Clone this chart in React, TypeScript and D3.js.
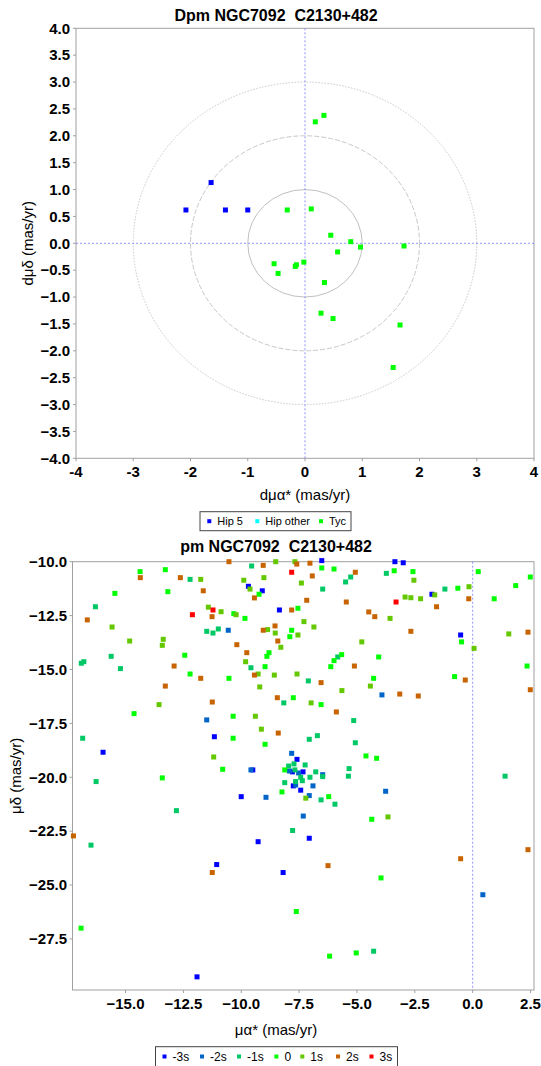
import React from "react";
import * as d3 from "d3";

// ---------- Top chart data (Dpm) ----------
const hip5: [number, number][] = [[-2.08, 0.62], [-1.64, 1.13], [-1.39, 0.62], [-1.0, 0.62]];
const hipOther: [number, number][] = [];
const tyc: [number, number][] = [
  [0.18, 2.26], [0.33, 2.38], [-0.31, 0.62], [0.11, 0.64], [0.45, 0.15], [0.80, 0.03],
  [0.97, -0.07], [1.73, -0.05], [0.57, -0.16], [-0.54, -0.38], [-0.47, -0.56], [-0.15, -0.40],
  [-0.17, -0.43], [-0.02, -0.35], [0.34, -0.73], [0.28, -1.30], [0.49, -1.40], [1.66, -1.52], [1.54, -2.31],
];
const topXTicks = [-4, -3, -2, -1, 0, 1, 2, 3, 4];
const topYTicks = [-4, -3.5, -3, -2.5, -2, -1.5, -1, -0.5, 0, 0.5, 1, 1.5, 2, 2.5, 3, 3.5, 4];
const rings = [1, 2, 3];

// ---------- Bottom chart data (pm) ----------
const sM3: [number, number][] = [
  [-6.52, -9.95], [-3.36, -10.0], [-3.0, -10.05], [-9.69, -11.14], [-9.09, -11.35], [-1.76, -11.51],
  [-8.35, -12.24], [-0.52, -13.40], [-11.16, -18.12], [-15.97, -18.84], [-7.59, -19.17], [-9.50, -19.66],
  [-7.79, -19.75], [-7.33, -19.75], [-7.75, -20.40], [-7.43, -20.60], [-10.0, -20.90], [-9.27, -22.99],
  [-7.06, -22.83], [-11.06, -24.05], [-8.19, -24.42], [-11.91, -29.26],
];
const sM2: [number, number][] = [
  [-10.56, -13.18], [-3.92, -16.18], [-11.49, -17.34], [-7.82, -18.89], [-9.58, -19.66], [-7.92, -19.71],
  [-7.52, -19.80], [-6.48, -19.88], [-7.65, -20.36], [-6.90, -20.40], [-3.76, -20.65], [-8.93, -20.93],
  [-7.06, -20.85], [-7.32, -21.80], [0.44, -25.45],
];
const sM1: [number, number][] = [
  [-9.55, -10.20], [-3.73, -10.54], [-12.21, -10.82], [-5.27, -10.71], [-5.49, -10.94], [-6.48, -11.27],
  [-1.20, -11.27], [-16.30, -12.09], [-11.49, -13.23], [-11.22, -13.31], [-10.99, -13.12], [-15.62, -14.39],
  [-9.58, -14.92], [-5.83, -14.42], [-16.91, -14.71], [-16.80, -14.64], [-15.22, -14.96], [-7.10, -15.53],
  [-8.16, -16.55], [-5.14, -17.37], [-16.85, -18.19], [-7.06, -18.24], [-6.71, -18.07], [-5.07, -18.40],
  [-7.95, -19.48], [-7.72, -19.38], [-7.24, -19.43], [-7.68, -19.66], [-6.78, -19.75], [-6.48, -19.97],
  [-5.34, -19.60], [-5.37, -19.95], [-7.43, -20.00], [-7.03, -20.00], [-7.36, -20.16], [-7.65, -20.20],
  [-8.12, -20.25], [1.40, -19.95], [-16.27, -20.20], [-6.55, -21.05], [-5.95, -21.25], [-12.80, -21.55],
  [-7.78, -22.47], [-16.49, -23.15], [-4.28, -28.07],
];
const s0: [number, number][] = [
  [-14.37, -10.46], [-13.28, -10.37], [-6.52, -10.29], [-5.99, -10.34], [-3.39, -10.42], [-2.58, -10.46],
  [0.24, -10.46], [2.49, -10.71], [-9.23, -11.51], [-15.46, -11.47], [-13.17, -11.39], [-0.64, -11.23],
  [1.86, -11.11], [0.93, -11.72], [-7.55, -12.16], [-10.32, -12.41], [-9.84, -12.63], [-7.82, -13.18],
  [-7.90, -13.48], [-0.48, -13.72], [-8.80, -14.22], [-8.89, -14.39], [-12.44, -14.34], [-5.66, -14.31],
  [-5.99, -14.59], [-4.06, -14.42], [-8.97, -14.87], [-6.13, -14.87], [2.35, -14.84], [-12.21, -15.21],
  [-10.53, -15.41], [-4.28, -15.41], [-0.78, -15.33], [-7.75, -16.31], [-6.55, -16.63], [-14.63, -17.05],
  [-10.35, -17.17], [-10.35, -18.19], [-8.97, -18.47], [-4.61, -19.01], [-4.15, -19.12], [-10.80, -19.63],
  [-8.12, -19.66], [-13.41, -20.03], [-8.24, -20.68], [-6.22, -20.90], [-4.36, -21.95], [-3.96, -24.67],
  [-7.62, -26.23], [-16.92, -27.00], [-6.18, -28.30], [-5.03, -28.15],
];
const s1: [number, number][] = [
  [-8.51, -10.0], [-7.68, -10.0], [-11.75, -10.82], [-9.89, -10.86], [-9.02, -10.74], [-2.54, -10.86],
  [-7.40, -10.99], [-9.62, -11.27], [-0.16, -11.16], [-1.64, -11.54], [-2.92, -11.64], [-2.67, -11.67],
  [-2.25, -11.72], [-11.42, -12.11], [-10.87, -12.32], [-10.22, -12.46], [-3.57, -12.63], [-7.29, -12.78],
  [-15.58, -13.03], [-6.86, -13.03], [-8.86, -13.15], [-8.53, -13.31], [-7.55, -13.40], [1.56, -13.35],
  [-14.82, -13.68], [-13.37, -13.60], [-13.41, -13.88], [-8.29, -13.97], [-4.79, -13.72], [0.06, -14.02],
  [-9.81, -14.64], [-9.27, -15.21], [-8.57, -15.26], [-7.59, -15.21], [-9.20, -15.81], [-5.65, -15.98],
  [-4.42, -15.77], [-13.55, -16.63], [-6.98, -16.55], [-9.39, -17.17], [-9.13, -17.77], [-11.19, -19.06],
  [-7.21, -20.97], [-3.66, -21.84],
];
const s2: [number, number][] = [
  [-10.53, -10.0], [-9.05, -10.17], [-7.60, -10.11], [-7.03, -10.07], [-5.07, -10.49], [-14.36, -10.74],
  [-12.63, -10.74], [-6.93, -10.66], [-11.64, -11.35], [-0.17, -11.72], [-9.43, -11.68], [-7.17, -11.79],
  [-5.46, -11.87], [-7.82, -12.24], [-1.56, -12.09], [-4.49, -12.33], [-4.23, -12.55], [-11.26, -12.55],
  [-16.65, -12.70], [-9.05, -13.18], [-8.54, -12.98], [-8.42, -13.68], [-2.67, -13.23], [2.39, -13.27],
  [-10.19, -13.85], [-9.76, -14.22], [-12.90, -14.84], [-5.11, -14.84], [-11.75, -15.41], [-9.43, -15.26],
  [-6.55, -15.61], [-0.32, -15.49], [-13.28, -15.77], [-3.15, -16.14], [-2.35, -16.23], [2.49, -15.94],
  [-8.44, -16.31], [-11.25, -16.51], [-5.89, -16.97], [-8.40, -17.95], [-17.25, -22.72], [-11.25, -24.42],
  [-6.25, -24.10], [-0.52, -23.78], [2.39, -23.36],
];
const s3: [number, number][] = [[-7.82, -10.49], [-3.31, -11.87], [-11.22, -12.24], [-12.11, -12.46]];
const botXTicks = [-15, -12.5, -10, -7.5, -5, -2.5, 0, 2.5];
const botYTicks = [-10, -12.5, -15, -17.5, -20, -22.5, -25, -27.5];

const sigmaNames = ["-3s", "-2s", "-1s", "0", "1s", "2s", "3s"];
const sigmaColors = ["#0000ff", "#0064c8", "#00c864", "#00ff00", "#64c800", "#c86400", "#ff0000"];
const sigmaData = [sM3, sM2, sM1, s0, s1, s2, s3];

const topNames = ["Hip 5", "Hip other", "Tyc"];
const topColors = ["#0000ff", "#00ffff", "#00ff00"];
const topData = [hip5, hipOther, tyc];

const FONT = "'Liberation Sans', Arial, sans-serif";
const AXIS = "#a0a0a0";
const MS = 5;

export default function App() {
  const tx = d3.scaleLinear().domain([-4, 4]).range([76, 534]);
  const ty = d3.scaleLinear().domain([-4, 4]).range([458.3, 28.3]);
  const bx = d3.scaleLinear().domain([-17.29, 2.65]).range([72.5, 534]);
  const by = d3.scaleLinear().domain([-29.87, -10]).range([990, 561.7]);
  const f1 = d3.format(".1f");

  const ringStyles = [
    { dash: "none", color: "#c0c0c0" },
    { dash: "5,2", color: "#c8c8c8" },
    { dash: "1.5,1.5", color: "#c8c8c8" },
  ];

  return (
    <svg width={541} height={1066} style={{ position: "absolute", left: 0, top: 0, background: "#fff" }} fontFamily={FONT}>
      <rect x={0} y={0} width={541} height={1066} fill="#fff" />
      {/* ---------------- TOP CHART ---------------- */}
      <text x={276} y={21.4} textAnchor="middle" fontSize={16} fontWeight="bold" style={{ whiteSpace: "pre" }}>{"Dpm NGC7092  C2130+482"}</text>
      <rect x={tx(-4)} y={ty(4)} width={tx(4) - tx(-4)} height={ty(-4) - ty(4)} fill="#fff" stroke={AXIS} />
      {rings.map((r, i) => (
        <ellipse key={r} cx={tx(0)} cy={ty(0)} rx={tx(r) - tx(0)} ry={ty(0) - ty(r)} fill="none"
          stroke={ringStyles[i].color} strokeWidth={1} strokeDasharray={ringStyles[i].dash} />
      ))}
      <line x1={tx(0)} x2={tx(0)} y1={ty(4)} y2={ty(-4)} stroke="#7777ff" strokeDasharray="2,2" strokeWidth={0.8} />
      <line x1={tx(-4)} x2={tx(4)} y1={ty(0)} y2={ty(0)} stroke="#7777ff" strokeDasharray="2,2" strokeWidth={0.8} />
      {topXTicks.map((t) => (
        <g key={"tx" + t}>
          <line x1={tx(t)} x2={tx(t)} y1={ty(-4)} y2={ty(-4) + 3} stroke={AXIS} />
          <text x={tx(t)} y={476.7} textAnchor="middle" fontSize={15} fontWeight="bold">{String(t)}</text>
        </g>
      ))}
      {topYTicks.map((t) => (
        <g key={"ty" + t}>
          <line x1={tx(-4) - 3} x2={tx(-4)} y1={ty(t)} y2={ty(t)} stroke={AXIS} />
          <text x={70} y={ty(t) + 5.3} textAnchor="end" fontSize={15} fontWeight="bold">{f1(t)}</text>
        </g>
      ))}
      <text x={305} y={500} textAnchor="middle" fontSize={15}>dμα* (mas/yr)</text>
      <text transform={`translate(33,${ty(0)}) rotate(-90)`} textAnchor="middle" fontSize={15}>dμδ (mas/yr)</text>
      {topData.map((ser, i) =>
        ser.map((d, j) => (
          <rect key={"tp" + i + "_" + j} x={tx(d[0]) - MS / 2} y={ty(d[1]) - MS / 2} width={MS} height={MS} fill={topColors[i]} />
        ))
      )}
      {/* top legend */}
      <rect x={200} y={511.7} width={151} height={19} fill="#fff" stroke="#444" />
      {topNames.map((n, i) => {
        const mx = [209.3, 257.3, 321][i];
        return (
          <g key={"tl" + n}>
            <rect x={mx - 2} y={521.2 - 2} width={4} height={4} fill={topColors[i]} />
            <text x={mx + 8} y={525} fontSize={11}>{n}</text>
          </g>
        );
      })}

      {/* ---------------- BOTTOM CHART ---------------- */}
      <text x={276} y={551.7} textAnchor="middle" fontSize={16} fontWeight="bold" style={{ whiteSpace: "pre" }}>{"pm NGC7092  C2130+482"}</text>
      <rect x={bx.range()[0]} y={by(-10)} width={bx.range()[1] - bx.range()[0]} height={by.range()[0] - by(-10)} fill="#fff" stroke={AXIS} />
      <line x1={bx(0)} x2={bx(0)} y1={by(-10)} y2={by.range()[0]} stroke="#7777ff" strokeDasharray="2,2" strokeWidth={0.8} />
      {botXTicks.map((t) => (
        <g key={"bx" + t}>
          <line x1={bx(t)} x2={bx(t)} y1={990} y2={993} stroke={AXIS} />
          <text x={bx(t)} y={1008.7} textAnchor="middle" fontSize={15} fontWeight="bold">{f1(t)}</text>
        </g>
      ))}
      {botYTicks.map((t) => (
        <g key={"by" + t}>
          <line x1={69.5} x2={72.5} y1={by(t)} y2={by(t)} stroke={AXIS} />
          <text x={67} y={by(t) + 5.3} textAnchor="end" fontSize={15} fontWeight="bold">{f1(t)}</text>
        </g>
      ))}
      <text x={276} y={1034.6} textAnchor="middle" fontSize={15}>μα* (mas/yr)</text>
      <text transform={`translate(21,${(by.range()[0] + by(-10)) / 2}) rotate(-90)`} textAnchor="middle" fontSize={15}>μδ (mas/yr)</text>
      {sigmaData.map((ser, i) =>
        ser.map((d, j) => (
          <rect key={"bp" + i + "_" + j} x={bx(d[0]) - MS / 2} y={by(d[1]) - MS / 2} width={MS} height={MS} fill={sigmaColors[i]} />
        ))
      )}
      {/* bottom legend */}
      <rect x={155.5} y={1046.7} width={242} height={21} fill="#fff" stroke="#444" />
      {sigmaNames.map((n, i) => {
        const mx = [164.5, 202, 239, 276.4, 302.3, 338, 371.5][i];
        return (
          <g key={"bl" + n}>
            <rect x={mx - 2} y={1056.5 - 2} width={4} height={4} fill={sigmaColors[i]} />
            <text x={mx + 8} y={1060.8} fontSize={12}>{n}</text>
          </g>
        );
      })}
    </svg>
  );
}
